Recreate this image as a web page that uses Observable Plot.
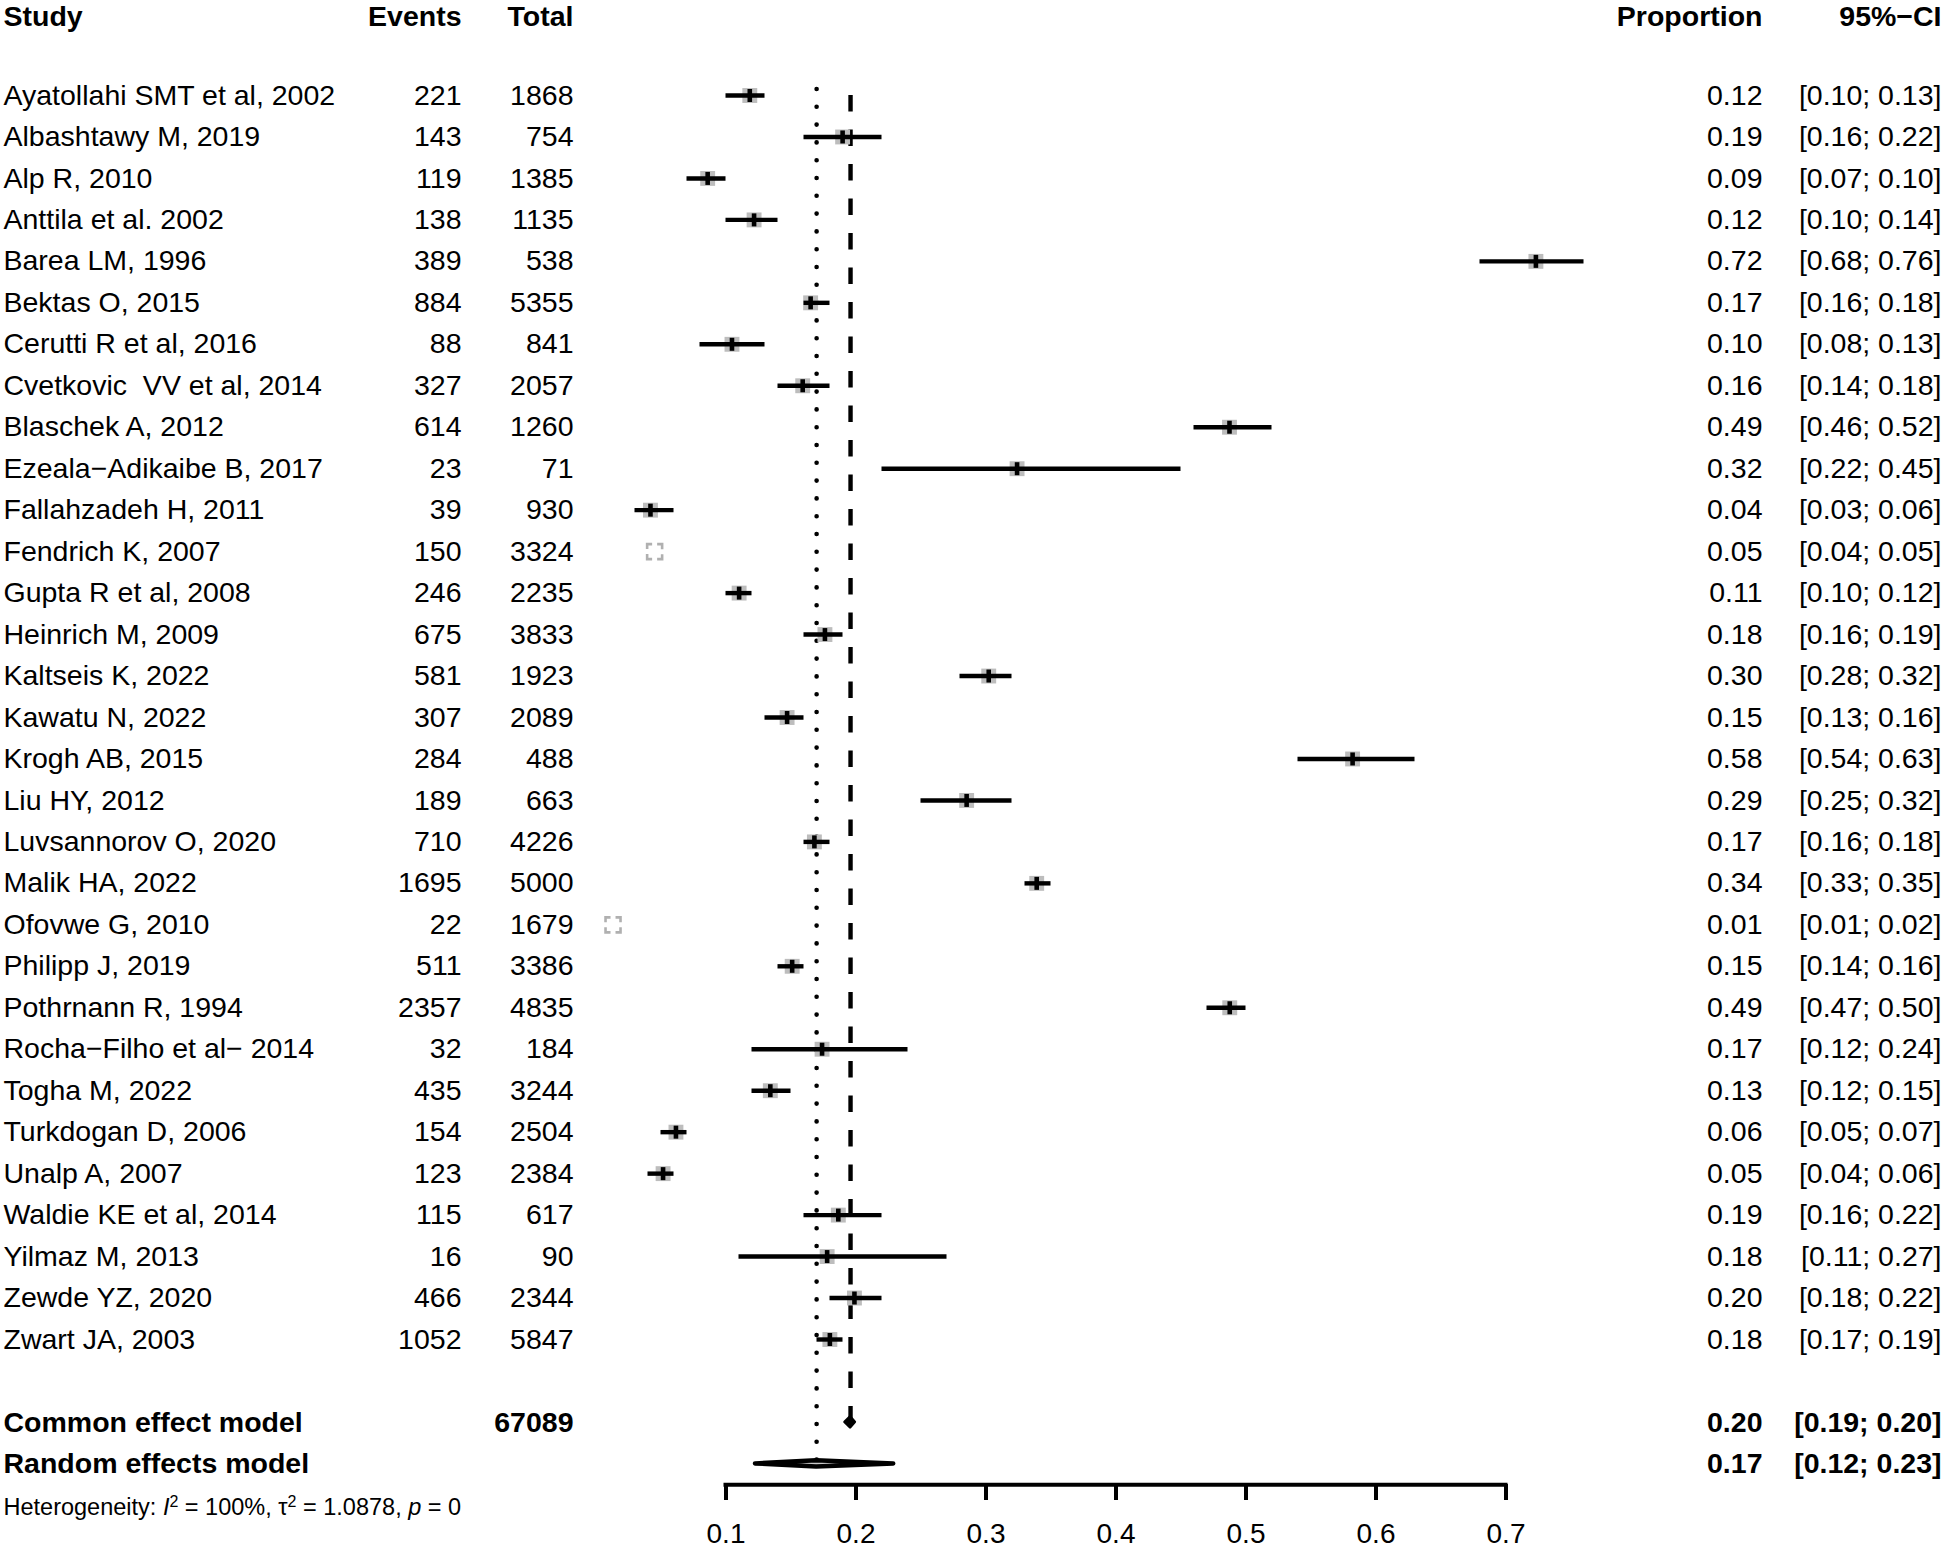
<!DOCTYPE html>
<html>
<head>
<meta charset="utf-8">
<script src="https://cdn.jsdelivr.net/npm/d3@7"></script>
<script src="https://cdn.jsdelivr.net/npm/@observablehq/plot@0.6"></script>
<style>
  html, body { margin: 0; padding: 0; background: #fff; }
  #chart svg { display: block; }
  #chart svg text { white-space: pre; }
</style>
</head>
<body>
<div id="chart"></div>
<script>
// ---------- data ----------
const studies = [
  "Ayatollahi SMT et al, 2002", "Albashtawy M, 2019", "Alp R, 2010", "Anttila et al. 2002",
  "Barea LM, 1996", "Bektas O, 2015", "Cerutti R et al, 2016", "Cvetkovic  VV et al, 2014",
  "Blaschek A, 2012", "Ezeala\u2212Adikaibe B, 2017", "Fallahzadeh H, 2011", "Fendrich K, 2007",
  "Gupta R et al, 2008", "Heinrich M, 2009", "Kaltseis K, 2022", "Kawatu N, 2022",
  "Krogh AB, 2015", "Liu HY, 2012", "Luvsannorov O, 2020", "Malik HA, 2022",
  "Ofovwe G, 2010", "Philipp J, 2019", "Pothrnann R, 1994", "Rocha\u2212Filho et al\u2212 2014",
  "Togha M, 2022", "Turkdogan D, 2006", "Unalp A, 2007", "Waldie KE et al, 2014",
  "Yilmaz M, 2013", "Zewde YZ, 2020", "Zwart JA, 2003"
];
const events = [221, 143, 119, 138, 389, 884, 88, 327, 614, 23, 39, 150, 246, 675, 581, 307,
  284, 189, 710, 1695, 22, 511, 2357, 32, 435, 154, 123, 115, 16, 466, 1052];
const totals = [1868, 754, 1385, 1135, 538, 5355, 841, 2057, 1260, 71, 930, 3324, 2235, 3833, 1923, 2089,
  488, 663, 4226, 5000, 1679, 3386, 4835, 184, 3244, 2504, 2384, 617, 90, 2344, 5847];
const proportions = [0.1183, 0.1897, 0.0859, 0.1216, 0.7230, 0.1651, 0.1046, 0.1590, 0.4873, 0.3239,
  0.0419, 0.0451, 0.1101, 0.1761, 0.3021, 0.1470, 0.5820, 0.2851, 0.1680, 0.3390, 0.0131, 0.1509,
  0.4875, 0.1739, 0.1341, 0.0615, 0.0516, 0.1864, 0.1778, 0.1988, 0.1799];
const lowers = [0.10, 0.16, 0.07, 0.10, 0.68, 0.16, 0.08, 0.14, 0.46, 0.22, 0.03, 0.04, 0.10, 0.16, 0.28, 0.13,
  0.54, 0.25, 0.16, 0.33, 0.01, 0.14, 0.47, 0.12, 0.12, 0.05, 0.04, 0.16, 0.11, 0.18, 0.17];
const uppers = [0.13, 0.22, 0.10, 0.14, 0.76, 0.18, 0.13, 0.18, 0.52, 0.45, 0.06, 0.05, 0.12, 0.19, 0.32, 0.16,
  0.63, 0.32, 0.18, 0.35, 0.02, 0.16, 0.50, 0.24, 0.15, 0.07, 0.06, 0.22, 0.27, 0.22, 0.19];

const modelNames = ["Common effect model", "Random effects model"];
const modelEstimates = [0.1958, 0.1697];
const modelLowers = [0.1915, 0.1227];
const modelUppers = [0.1995, 0.2290];
const totalParticipants = 67089;

const headers = ["Study", "Events", "Total", "Proportion", "95%\u2212CI"];
const xTicks = [0.1, 0.2, 0.3, 0.4, 0.5, 0.6, 0.7];
const heterogeneity = "Heterogeneity: I2 = 100%, \u03c42 = 1.0878, p = 0";

// ---------- layout (styles / positions) ----------
const W = 1944, H = 1548;
const FONT = "'Liberation Sans', Arial, Helvetica, sans-serif";
const FS = 28.5;
const colStudy = 3, colEvents = 461, colTotal = 573, colProp = 1762, colCI = 1941;
const n = studies.length;
const commonRow = n + 1, randomRow = n + 2, axisRow = n + 2.5, hetRow = n + 3;
const f2 = d => d.toFixed(2);

const rows = studies.map((s, i) => ({
  study: s, events: events[i], total: totals[i], p: proportions[i],
  lo: lowers[i], hi: uppers[i], row: i
}));
const normal = rows.filter(d => d.hi - d.lo > 0.015);
const tiny = rows.filter(d => d.hi - d.lo <= 0.015);

const models = modelNames.map((m, i) => ({
  name: m, est: modelEstimates[i], lo: modelLowers[i], hi: modelUppers[i],
  row: i === 0 ? commonRow : randomRow
}));

const rowPx = (1339 - 95) / 30;
function diamond(m, halfPx) {
  const h = halfPx / rowPx;
  return [
    {x: m.lo, y1: m.row, y2: m.row},
    {x: m.est, y1: m.row - h, y2: m.row + h},
    {x: m.hi, y1: m.row, y2: m.row}
  ];
}

const barSymbol = { draw(context) { context.rect(-2.3, -6.5, 4.6, 13); } };

const refLines = [
  {x: models[1].est, y1: 0, y2: randomRow},
  {x: models[0].est, y1: 0, y2: commonRow}
];

const headerPos = [colStudy, colEvents, colTotal, colProp, colCI];
const headerMarks = headers.map((h, i) =>
  Plot.text([h], {text: d => d, frameAnchor: "top-left", lineAnchor: "top",
    textAnchor: i === 0 ? "start" : "end", dx: headerPos[i], dy: 5,
    fontWeight: "bold", fontSize: FS})
);

const chart = Plot.plot({
  width: W, height: H,
  marginLeft: 0, marginRight: 0, marginTop: 0, marginBottom: 64,
  style: {fontFamily: FONT, fontSize: FS + "px", background: "#fff", color: "#000"},
  x: {type: "linear", domain: [0.1, 0.7], range: [725.5, 1505.5]},
  y: {type: "linear", domain: [0, 30], range: [95, 1339], axis: null},
  marks: [
    // reference lines
    Plot.ruleX([refLines[0]], {x: "x", y1: "y1", y2: "y2", insetTop: -6, stroke: "#000",
      strokeWidth: 4.6, strokeDasharray: "0 17.8", strokeLinecap: "round"}),
    Plot.ruleX([refLines[1]], {x: "x", y1: "y1", y2: "y2", stroke: "#000",
      strokeWidth: 4.4, strokeDasharray: "16.5 18"}),
    // study markers
    Plot.dot(normal, {x: "p", y: "row", symbol: "square", r: 8.4, fill: "#bdbdbd", stroke: "none"}),
    Plot.ruleY(normal, {y: "row", x1: "lo", x2: "hi", stroke: "#000", strokeWidth: 4.4}),
    Plot.dot(normal, {x: "p", y: "row", symbol: barSymbol, r: 4, fill: "#000", stroke: "none"}),
    Plot.dot(tiny, {x: "p", y: "row", symbol: "square", r: 8.46, fill: "none", stroke: "#b0b0b0",
      strokeWidth: 2.6, strokeDasharray: "5 5 5 0"}),
    // pooled diamonds
    Plot.areaY(diamond(models[0], 5.5), {x: "x", y1: "y1", y2: "y2", fill: "#000", stroke: "#000", strokeWidth: 2.5, curve: "linear"}),
    Plot.areaY(diamond(models[1], 3.2), {x: "x", y1: "y1", y2: "y2", fill: "#c8c8c8", stroke: "#000", strokeWidth: 4.5, strokeLinejoin: "round", curve: "linear"}),
    // x axis
    Plot.ruleY([axisRow], {x1: xTicks[0], x2: xTicks[xTicks.length - 1], stroke: "#000", strokeWidth: 4, strokeLinecap: "square"}),
    Plot.axisX({anchor: "bottom", ticks: xTicks, tickFormat: d => d.toFixed(1), tickSize: 16, tickPadding: 23,
      fontSize: 28, strokeWidth: 4, fill: "#000", stroke: "#000"}),
    // header
    ...headerMarks,
    // study table
    Plot.text(rows, {y: "row", text: "study", frameAnchor: "left", textAnchor: "start", dx: colStudy, fontSize: FS}),
    Plot.text(rows, {y: "row", text: d => String(d.events), frameAnchor: "left", textAnchor: "end", dx: colEvents, fontSize: FS}),
    Plot.text(rows, {y: "row", text: d => String(d.total), frameAnchor: "left", textAnchor: "end", dx: colTotal, fontSize: FS}),
    Plot.text(rows, {y: "row", text: d => f2(d.p), frameAnchor: "left", textAnchor: "end", dx: colProp, fontSize: FS}),
    Plot.text(rows, {y: "row", text: d => `[${f2(d.lo)}; ${f2(d.hi)}]`, frameAnchor: "left", textAnchor: "end", dx: colCI, fontSize: FS}),
    // model rows
    Plot.text(models, {y: "row", text: "name", frameAnchor: "left", textAnchor: "start", dx: colStudy, fontSize: FS, fontWeight: "bold"}),
    Plot.text([models[0]], {y: "row", text: () => String(totalParticipants), frameAnchor: "left", textAnchor: "end", dx: colTotal, fontSize: FS, fontWeight: "bold"}),
    Plot.text(models, {y: "row", text: d => f2(d.est), frameAnchor: "left", textAnchor: "end", dx: colProp, fontSize: FS, fontWeight: "bold"}),
    Plot.text(models, {y: "row", text: d => `[${f2(d.lo)}; ${f2(d.hi)}]`, frameAnchor: "left", textAnchor: "end", dx: colCI, fontSize: FS, fontWeight: "bold"}),
    // heterogeneity
    Plot.text([heterogeneity], {y: () => hetRow, text: d => d, frameAnchor: "left", textAnchor: "start", dx: colStudy, dy: 2, fontSize: 23.5})
  ]
});

document.getElementById("chart").appendChild(chart);

// heterogeneity line with italics and superscripts
d3.select(chart).selectAll("text").filter(function () { return this.textContent === heterogeneity; })
  .each(function () {
    const t = d3.select(this);
    t.text(null);
    t.append("tspan").text("Heterogeneity: ");
    t.append("tspan").attr("font-style", "italic").text("I");
    t.append("tspan").attr("dy", -8).attr("font-size", 16).text("2");
    t.append("tspan").attr("dy", 8).text(" = 100%, ");
    t.append("tspan").text("\u03c4");
    t.append("tspan").attr("dy", -8).attr("font-size", 16).text("2");
    t.append("tspan").attr("dy", 8).text(" = 1.0878, ");
    t.append("tspan").attr("font-style", "italic").text("p");
    t.append("tspan").text(" = 0");
  });
</script>
</body>
</html>
